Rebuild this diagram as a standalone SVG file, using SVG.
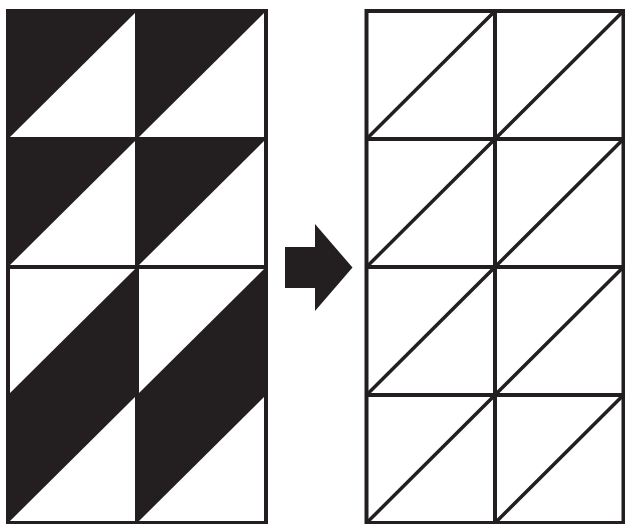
<svg xmlns="http://www.w3.org/2000/svg" width="625" height="524" viewBox="0 0 625 524">
<style>
.ln{fill:none;stroke:#231f20;stroke-width:4;stroke-linecap:square}
.dg{fill:none;stroke:#231f20;stroke-width:3.5}
.bk{fill:#231f20;stroke:none}
</style>
<rect width="625" height="524" fill="#fff"/>
<g id="left-grid">
<!-- row 1 -->
<polygon class="bk" points="8,11 137,11 8,139"/>
<polygon class="bk" points="137,11 266,11 137,139"/>
<!-- row 2 -->
<polygon class="bk" points="8,139 137,139 8,267"/>
<polygon class="bk" points="137,139 266,139 137,267"/>
<!-- row 3 (lower-right) -->
<polygon class="bk" points="137,267 137,395 8,395"/>
<polygon class="bk" points="266,267 266,395 137,395"/>
<!-- row 4 -->
<polygon class="bk" points="8,395 137,395 8,523"/>
<polygon class="bk" points="137,395 266,395 137,523"/>
<path class="ln" d="M8,11H266V523H8Z M137,11V523 M8,139H266 M8,267H266 M8,395H266"/>
</g>
<g id="arrow">
<polygon class="bk" points="285,247 315,247 315,224 352.5,267.5 315,311 315,288 285,288"/>
</g>
<g id="right-grid">
<path class="ln" d="M366.5,11H623.5V523H366.5Z M495,11V523 M366.5,139H623.5 M366.5,267H623.5 M366.5,395H623.5"/>
<path class="dg" d="M366.5,139L495,11 M495,139L623.5,11 M366.5,267L495,139 M495,267L623.5,139 M366.5,395L495,267 M495,395L623.5,267 M366.5,523L495,395 M495,523L623.5,395"/>
</g>
</svg>
